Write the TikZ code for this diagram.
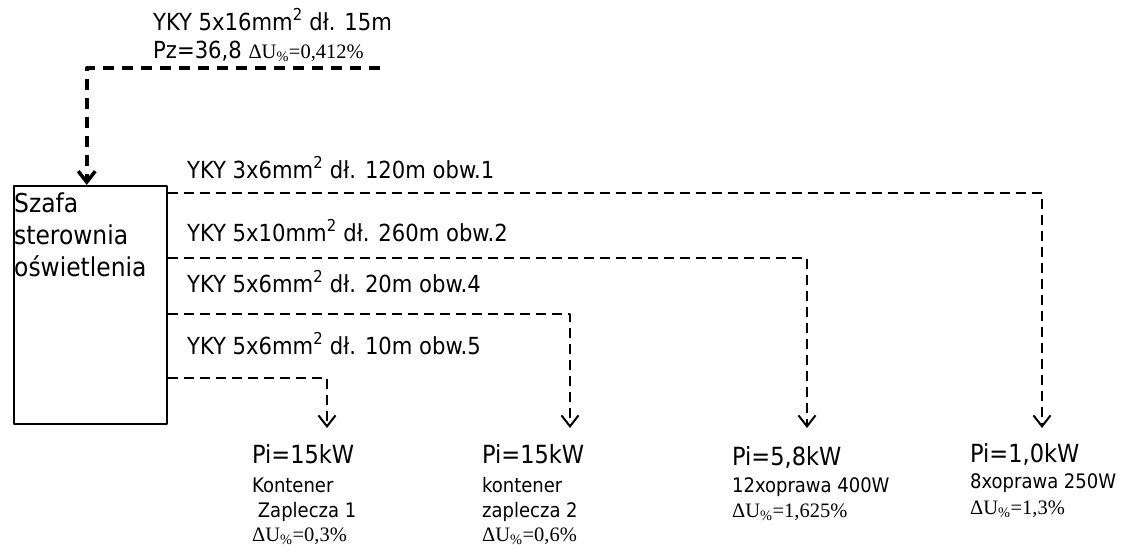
\documentclass[tikz,border=0pt]{standalone}
\usepackage{fontspec}
\setmainfont{DejaVu Sans Condensed}
\newfontfamily\serifdu{Liberation Serif}
\usetikzlibrary{arrows.meta}
\newcommand{\du}[1]{{\serifdu\fontsize{20.5}{24}\selectfont ΔU\textsubscript{\%}=#1\%}}
\tikzset{
    opis/.style={anchor=base west, inner sep=0pt, font=\fontsize{23.5}{28}\selectfont},
    opisduzy/.style={anchor=base west, inner sep=0pt, font=\fontsize{25}{30}\selectfont},
    opismaly/.style={anchor=base west, inner sep=0pt, font=\fontsize{20}{24}\selectfont},
    obwod/.style={line width=2pt, dash pattern=on 10pt off 6pt, ->},
    zasilanie/.style={line width=3.5pt, dash pattern=on 11pt off 8pt, ->},
}
\begin{document}
\begin{tikzpicture}[x=1pt, y=-1pt, line join=round, >={Straight Barb[length=11pt, width=17pt]}]
    \useasboundingbox (0,0) rectangle (1139,549);
    \path
    (380,68) coordinate (zas)
    (1042,428) coordinate (k1)
    (807,428) coordinate (k2)
    (570,428) coordinate (k4)
    (327,428) coordinate (k5)
    ;
    % szafa
    \node[draw, line width=1.5pt, anchor=north west, inner sep=0pt,
          minimum width=153pt, minimum height=238pt] (szafa) at (13,185) {};
    \node[anchor=base west, inner sep=0pt, align=left, font=\fontsize{26}{32}\selectfont]
        (szafatxt) at (14,276) {Szafa\\sterownia\\oświetlenia};

    % zasilanie
    \node[opis] (zasopis1) at (153,30) {YKY 5x16mm\textsuperscript{2} dł. 15m};
    \node[opis] (zasopis2) at (153,58) {Pz=36,8 \du{0,412}};
    \draw[zasilanie] (zas) -| ([xshift=-3.5pt]szafa.north);

    % obwody
    \foreach \n/\y in {1/193, 2/258, 4/314, 5/378}{
        \draw[obwod] (szafa.east |- 0,\y) -| (k\n);
    }
    \node[opis] (kabel1) at (187,178) {YKY 3x6mm\textsuperscript{2} dł. 120m obw.1};
    \node[opis] (kabel2) at (187,241) {YKY 5x10mm\textsuperscript{2} dł. 260m obw.2};
    \node[opis] (kabel4) at (187,292) {YKY 5x6mm\textsuperscript{2} dł. 20m obw.4};
    \node[opis] (kabel5) at (187,354) {YKY 5x6mm\textsuperscript{2} dł. 10m obw.5};

    % odbiory
    \node[opisduzy] (pi5) at (252,463) {Pi=15kW};
    \node[opismaly] (opis5a) at (252,492) {Kontener};
    \node[opismaly] (opis5b) at (252,517) {\ Zaplecza 1};
    \node[opismaly] (du5) at (252,541) {\du{0,3}};

    \node[opisduzy] (pi4) at (482,463) {Pi=15kW};
    \node[opismaly] (opis4a) at (482,492) {kontener};
    \node[opismaly] (opis4b) at (482,517) {zaplecza 2};
    \node[opismaly] (du4) at (482,541) {\du{0,6}};

    \node[opisduzy] (pi2) at (732,465) {Pi=5,8kW};
    \node[opismaly] (opis2) at (732,492) {12xoprawa 400W};
    \node[opismaly] (du2) at (732,517) {\du{1,625}};

    \node[opisduzy] (pi1) at (970,462) {Pi=1,0kW};
    \node[opismaly] (opis1) at (970,488) {8xoprawa 250W};
    \node[opismaly] (du1) at (970,514) {\du{1,3}};
\end{tikzpicture}
\end{document}
